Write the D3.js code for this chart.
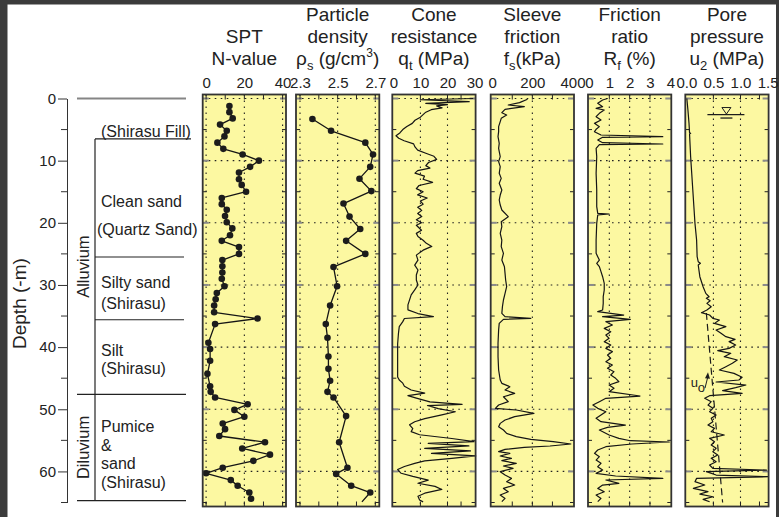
<!DOCTYPE html>
<html>
<head>
<meta charset="utf-8">
<script src="https://cdn.jsdelivr.net/npm/d3@7"></script>
<style>
  body { margin: 0; background: #3b3b3b; }
  svg { display: block; font-family: "Liberation Sans", Arial, sans-serif; }
</style>
</head>
<body>
<svg id="chart" width="779" height="517"></svg>
<script>
// ---- data (depth in m, value) ----
const sptData = [[1.2,12.2],[2.2,12.2],[3.2,13.9],[4.2,7.3],[5.2,10.8],[6.1,9.6],[7.1,5.9],[8.1,9.0],[9.0,19.1],[10.0,27.6],[11.0,23.0],[11.9,17.2],[13.0,17.2],[13.9,18.6],[15.0,20.9],[16.0,8.2],[17.0,8.2],[17.9,10.8],[18.9,9.9],[19.9,10.8],[20.9,13.7],[22.0,12.5],[22.9,8.2],[23.9,17.2],[25.0,17.2],[26.0,8.5],[27.0,8.5],[28.0,8.5],[29.0,8.2],[30.2,9.6],[31.3,5.6],[32.3,5.0],[33.3,4.2],[34.4,4.2],[35.4,26.9],[36.3,4.7],[39.3,1.2],[40.3,2.1],[42.2,2.1],[44.3,0.7],[46.3,2.1],[47.2,2.4],[48.1,4.7],[49.2,21.7],[50.1,14.8],[51.2,20.0],[52.3,8.7],[53.2,9.9],[54.3,6.9],[55.3,30.8],[56.3,18.9],[57.3,33.4],[58.3,24.7],[59.4,8.7],[60.3,0.0],[61.4,12.9],[62.3,16.5],[63.4,22.6],[64.4,23.5]];

const densityData = [[3.3,2.366],[5.2,2.465],[7.1,2.647],[9.0,2.688],[11.0,2.673],[12.9,2.616],[14.9,2.679],[16.9,2.531],[19.0,2.563],[21.0,2.62],[22.9,2.545],[25.0,2.647],[27.1,2.478],[30.2,2.497],[33.3,2.46],[36.3,2.437],[38.5,2.446],[41.5,2.451],[43.5,2.451],[45.4,2.46],[47.2,2.446],[48.1,2.478],[51.1,2.545],[55.3,2.508],[59.4,2.552],[60.4,2.492],[62.3,2.572],[63.4,2.673],[64.9,2.629]];

const coneData = [[0.0,29.5],[0.2,10],[0.5,28],[0.8,12],[1.0,20],[1.2,16],[1.5,18],[1.8,14],[2.2,12],[2.6,11],[3.0,10],[3.5,8],[4.0,7],[4.5,5],[5.0,3.5],[5.5,2.5],[6.0,1],[6.4,2],[6.8,4],[7.3,7.5],[7.8,8],[8.3,9],[8.8,12],[9.3,15],[9.8,16],[10.3,13],[10.8,12],[11.2,13.5],[11.6,9],[12.0,8],[12.5,11.5],[13.0,11],[13.5,14.5],[14.0,9.5],[14.5,8.5],[15.0,11],[15.5,9],[16.0,12.5],[16.5,10],[17.0,11],[17.5,9],[18.0,10.5],[18.5,9],[19.0,10.5],[19.5,8.5],[20.0,10.4],[20.4,8.5],[21.2,10.4],[21.7,8.5],[22.2,9.1],[22.8,11],[23.3,12.2],[23.8,14.2],[24.4,11],[25.2,8.5],[26.0,9.1],[26.8,7.9],[27.6,9.1],[28.4,8.5],[29.2,8.5],[30.0,9.1],[30.8,7.9],[31.6,6.6],[32.4,6],[33.2,5.4],[34.0,5.4],[34.6,9.1],[35.1,14.8],[35.4,4.1],[35.9,3.5],[36.7,2.2],[37.8,1.9],[39.5,1.6],[42.2,1.6],[44.8,1.6],[45.3,2.2],[45.8,3.5],[46.3,4.1],[46.9,6.6],[47.4,11.6],[47.8,5.4],[48.2,8.5],[48.8,13.5],[49.2,25.4],[49.4,12.6],[49.9,16.6],[50.4,22.9],[50.9,17.9],[51.5,11.6],[52.0,7.9],[52.5,6],[53.1,7.2],[53.6,6.6],[54.1,9.7],[54.7,21.6],[55.2,29.8],[55.5,12.9],[55.9,27.9],[56.3,11.6],[56.7,28.5],[57.1,14.1],[57.5,30.4],[57.9,21.6],[58.3,11.6],[58.7,7.9],[59.2,4.1],[59.7,1.6],[60.3,2.9],[60.8,7.2],[61.4,12.9],[61.9,9.1],[62.4,15.4],[62.9,17.9],[63.5,11.6],[64.0,9.1],[64.6,9.7],[64.9,11]];

const sleeveData = [[0.13,176],[0.67,136],[1.05,80],[1.31,160],[1.74,64],[2.28,48],[2.65,72],[3.19,45],[3.73,40],[4.53,32],[5.34,32],[6.14,29],[7.21,35],[8.02,32],[9.36,40],[10.16,32],[10.97,40],[12.04,35],[12.85,45],[13.65,35],[14.72,48],[15.53,40],[16.33,35],[17.14,40],[17.94,48],[19.01,80],[19.82,45],[20.62,48],[21.7,40],[22.77,48],[23.84,45],[24.91,56],[25.99,48],[27.06,61],[28.13,64],[29.2,67],[30.28,72],[31.35,64],[32.42,56],[33.49,51],[34.57,48],[35.1,64],[35.37,192],[35.53,56],[36.18,35],[37.25,32],[39.39,29],[41.54,29],[43.68,32],[45.29,40],[45.83,48],[46.37,88],[46.9,64],[47.44,112],[47.98,56],[48.78,80],[49.32,32],[49.85,16],[50.12,120],[50.66,208],[51.19,112],[51.73,64],[52.27,40],[52.8,32],[53.34,56],[53.88,72],[54.41,120],[54.84,192],[55.22,304],[55.59,392],[55.91,288],[56.13,160],[56.45,64],[56.82,32],[57.09,88],[57.52,40],[57.9,96],[58.27,48],[58.7,120],[59.13,56],[59.51,104],[60.04,40],[60.58,64],[61.12,96],[61.65,72],[62.19,112],[62.73,56],[63.26,80],[63.8,40],[64.34,64],[64.87,48]];

const ratioData = [[0.0,0.91],[0.24,0.67],[0.78,0.43],[1.31,0.67],[1.58,0.35],[1.85,0.75],[2.39,0.51],[2.92,0.35],[3.46,0.59],[4.0,0.27],[4.53,0.51],[4.96,0.35],[5.34,0.27],[5.87,0.59],[6.14,3.63],[6.25,0.67],[6.68,0.43],[7.11,0.67],[7.32,3.63],[7.43,0.51],[8.02,0.35],[9.36,0.38],[12.04,0.35],[14.72,0.38],[17.41,0.38],[18.48,0.43],[18.58,0.99],[18.74,0.43],[20.09,0.38],[22.77,0.35],[24.91,0.35],[25.45,0.43],[25.99,0.51],[26.52,0.38],[27.06,0.51],[27.86,0.59],[28.67,0.67],[29.74,0.75],[30.81,0.75],[31.89,0.7],[32.96,0.7],[34.03,0.67],[34.3,0.43],[34.84,1.71],[35.1,0.67],[35.53,2.03],[35.91,0.83],[36.44,1.15],[36.98,0.75],[37.52,1.07],[38.05,0.83],[38.59,0.99],[39.12,0.75],[39.66,1.07],[40.2,0.83],[40.73,1.15],[41.27,0.91],[41.81,1.07],[42.34,0.83],[42.88,1.15],[43.41,0.91],[43.95,1.23],[44.49,1.07],[45.02,1.31],[45.56,1.47],[46.1,0.99],[46.63,1.23],[47.17,0.99],[47.87,2.51],[48.24,0.83],[48.78,0.51],[49.32,0.19],[49.85,0.43],[50.39,0.83],[50.93,0.59],[51.46,0.35],[52.0,0.59],[52.54,1.79],[52.91,0.91],[53.34,0.51],[54.14,0.99],[54.68,1.47],[55.06,2.03],[55.27,3.95],[55.59,2.11],[56.02,0.83],[56.56,0.43],[57.09,0.27],[57.63,0.51],[58.17,0.35],[58.7,0.59],[59.24,0.43],[59.78,0.67],[60.31,0.35],[60.74,1.31],[61.12,3.63],[61.38,0.83],[61.92,1.47],[62.19,0.67],[62.73,0.43],[63.26,0.75],[63.8,0.35],[64.34,0.59],[64.87,0.43]];

const poreData = [[0.0,0.01],[1.85,0.03],[4.0,0.05],[5.5,0.06],[5.6,0.08],[5.7,0.06],[9.36,0.08],[12.04,0.1],[14.72,0.12],[17.41,0.14],[20.09,0.16],[22.77,0.19],[25.45,0.2],[26.25,0.22],[26.52,0.26],[26.79,0.22],[28.67,0.25],[30.28,0.31],[31.35,0.36],[31.89,0.42],[32.15,0.37],[32.53,0.44],[32.96,0.38],[33.49,0.46],[34.03,0.38],[34.46,0.28],[34.84,0.43],[35.37,0.49],[35.64,0.61],[36.18,0.52],[36.71,0.73],[37.25,0.55],[37.78,0.64],[38.32,0.73],[38.75,0.9],[39.12,0.79],[39.66,0.91],[40.2,0.79],[40.57,0.58],[41.0,0.82],[41.54,0.7],[42.07,0.94],[42.61,0.85],[43.15,0.73],[43.68,0.61],[44.22,0.88],[44.86,1.03],[45.29,0.97],[45.61,0.55],[46.1,1.1],[46.53,0.91],[47.01,0.67],[47.44,1.03],[47.81,0.43],[48.24,0.34],[48.78,0.46],[49.32,0.4],[49.85,0.49],[50.39,0.43],[50.93,0.55],[51.46,0.46],[52.0,0.49],[52.54,0.4],[53.07,0.52],[53.61,0.46],[54.14,0.7],[54.68,0.43],[55.22,0.52],[55.75,0.46],[56.29,0.55],[56.82,0.49],[57.36,0.58],[57.9,0.46],[58.43,0.55],[58.97,0.43],[59.51,0.49],[59.78,1.48],[60.04,0.37],[60.58,0.55],[60.85,1.51],[61.12,0.19],[61.65,0.16],[62.19,0.34],[62.73,0.13],[63.26,0.4],[63.64,0.25],[64.07,0.49],[64.5,0.31],[64.87,0.43]];

// hydrostatic pore pressure u0 (dashed) and water table
const u0Line = [[34.5,0.37],[65,0.67]];
const waterTable = { depth: 2.5, u: 0.74 };

// stratigraphy
const unitBounds = [0, 47.6, 64.7];
const subBounds = [6.5, 25.5, 35.6];
const units = [["Alluvium", 6.5, 47.6], ["Diluvium", 47.6, 64.7]];
const layerText = [["(Shirasu Fill)", 6.2], ["Clean sand", 17.5], ["(Quartz Sand)", 22.0], ["Silty sand", 30.5], ["(Shirasu)", 33.8], ["Silt", 41.4], ["(Shirasu)", 44.35], ["Pumice", 53.66], ["&", 56.64], ["sand", 59.61], ["(Shirasu)", 62.6]];

const depthTicks = [0, 10, 20, 30, 40, 50, 60];
const depthMinor = [5, 15, 25, 35, 45, 55, 65];

// ---- layout ----
const svg = d3.select("#chart");
svg.append("rect").attr("x", 7.5).attr("y", 4.5).attr("width", 768.5).attr("height", 513).attr("fill", "#fff");

const y = d3.scaleLinear().domain([0, 65]).range([98.5, 502.5]);
const frameTop = 94.5, frameBottom = 506.5, frameW = 83.3;

const panels = [
  { left: 202.7, pad: 3.4, domain: [0, 40], labels: [0, 20, 40], fmt: d3.format("d"), grid: [0, 20, 40], edge: [0, 10, 20, 30, 40],
    data: sptData, dots: true, title: ["SPT", "N-value"] },
  { left: 296, pad: 4, domain: [2.3, 2.7], labels: [2.3, 2.5, 2.7], fmt: d3.format(".1f"), grid: [2.3, 2.5, 2.7], edge: [2.3, 2.4, 2.5, 2.6, 2.7],
    data: densityData, dots: true, title: ["Particle", "density", [["ρ"], ["s", "sub"], [" (g/cm"], ["3", "sup"], [")"]]] },
  { left: 392.3, pad: 1, domain: [0, 30], labels: [0, 10, 20, 30], fmt: d3.format("d"), grid: [10, 20], edge: [10, 20, 25],
    data: coneData, title: ["Cone", "resistance", [["q"], ["t", "sub"], [" (MPa)"]]] },
  { left: 490.7, pad: 1.5, domain: [0, 400], labels: [0, 200, 400], fmt: d3.format("d"), grid: [200], edge: [100, 200, 300],
    data: sleeveData, title: ["Sleeve", "friction", [["f"], ["s", "sub"], ["(kPa)"]]] },
  { left: 588, pad: 1, domain: [0, 4], labels: [0, 1, 2, 3, 4], fmt: d3.format("d"), grid: [1, 2, 3], edge: [1, 2, 3],
    data: ratioData, title: ["Friction", "ratio", [["R"], ["f", "sub"], [" (%)"]]] },
  { left: 685.3, pad: 1, domain: [0, 1.5], labels: [0, 0.5, 1.0, 1.5], fmt: d3.format(".1f"), grid: [0.5, 1.0], edge: [0.5, 1.0, 1.35],
    data: poreData, title: ["Pore", "pressure", [["u"], ["2", "sub"], [" (MPa)"]]] }
];

function writeLine(text, parts) {
  if (typeof parts === "string") { text.text(parts); return; }
  let shift = 0;
  parts.forEach(([s, kind]) => {
    const t = text.append("tspan").text(s);
    let target = 0;
    if (kind === "sub") { target = 5; t.attr("font-size", 13); }
    if (kind === "sup") { target = -8; t.attr("font-size", 12); }
    if (target !== shift) t.attr("dy", target - shift);
    shift = target;
  });
}

panels.forEach(p => {
  const x = d3.scaleLinear().domain(p.domain).range([p.left + p.pad, p.left + frameW - p.pad]);
  const cx = p.left + frameW / 2;
  const g = svg.append("g");

  g.append("rect")
    .attr("x", p.left).attr("y", frameTop)
    .attr("width", frameW).attr("height", frameBottom - frameTop)
    .attr("fill", "#fcf8a1");

  // dotted grid
  g.selectAll(".hgrid").data(depthTicks).enter().append("line")
    .attr("x1", p.left).attr("x2", p.left + frameW)
    .attr("y1", d => y(d)).attr("y2", d => y(d))
    .attr("stroke", "#222").attr("stroke-width", 1.1).attr("stroke-dasharray", "1.6,4.4");
  g.selectAll(".vgrid").data(p.grid).enter().append("line")
    .attr("x1", d => x(d)).attr("x2", d => x(d))
    .attr("y1", frameTop).attr("y2", frameBottom)
    .attr("stroke", "#222").attr("stroke-width", 1.1).attr("stroke-dasharray", "1.6,4.4");

  // edge ticks
  depthTicks.concat(depthMinor).forEach(d => {
    const major = d % 10 === 0;
    [[p.left, 1], [p.left + frameW, -1]].forEach(([ex, dir]) => {
      g.append("line")
        .attr("x1", ex).attr("x2", ex + dir * (major ? 6 : 4))
        .attr("y1", y(d)).attr("y2", y(d))
        .attr("stroke", major ? "#8a8a8a" : "#222").attr("stroke-width", major ? 2 : 1);
    });
  });
  p.edge.forEach(v => {
    [[frameTop, 1], [frameBottom, -1]].forEach(([ey, dir]) => {
      g.append("line")
        .attr("x1", x(v)).attr("x2", x(v))
        .attr("y1", ey).attr("y2", ey + dir * 5)
        .attr("stroke", "#222").attr("stroke-width", 1);
    });
  });

  // data trace
  const line = d3.line().x(d => x(d[1])).y(d => y(d[0]));
  g.append("path").datum(p.data)
    .attr("fill", "none").attr("stroke", "#151515")
    .attr("stroke-width", p.dots ? 1.3 : 1.2)
    .attr("stroke-linejoin", "round")
    .attr("d", line);

  if (p.dots) {
    const pts = p.data === densityData ? p.data.slice(0, -1) : p.data;
    g.selectAll(".dot").data(pts).enter().append("circle")
      .attr("cx", d => x(d[1])).attr("cy", d => y(d[0]))
      .attr("r", 3.3).attr("fill", "#1c1c1c");
  }

  if (p.data === poreData) {
    g.append("path").datum(u0Line)
      .attr("fill", "none").attr("stroke", "#1c1c1c").attr("stroke-width", 1.2)
      .attr("stroke-dasharray", "7,4").attr("d", line);
    // u0 label + arrow
    const lx = x(0.08), ly = y(46.4);
    const t = g.append("text").attr("x", lx).attr("y", ly).attr("font-size", 13).attr("fill", "#222");
    writeLine(t, [["u"], ["o", "sub"]]);
    const ax0 = x(0.345), ay0 = y(46.6), ax1 = x(0.4), ay1 = y(44.2);
    g.append("line").attr("x1", ax0).attr("y1", ay0).attr("x2", ax1).attr("y2", ay1 + 3)
      .attr("stroke", "#1c1c1c").attr("stroke-width", 1);
    g.append("path")
      .attr("d", `M${ax1},${ay1 - 1}L${ax1 - 3},${ay1 + 5}L${ax1 + 2},${ay1 + 5.5}Z`)
      .attr("fill", "#1c1c1c");
    // water table symbol
    const wx = x(waterTable.u), wy = y(waterTable.depth);
    g.append("path").attr("d", `M${wx - 4.5},${wy - 6.5}L${wx + 4.5},${wy - 6.5}L${wx},${wy}Z`)
      .attr("fill", "none").attr("stroke", "#1c1c1c").attr("stroke-width", 1);
    g.append("line").attr("x1", wx - 19).attr("x2", wx + 18).attr("y1", wy + 0.5).attr("y2", wy + 0.5)
      .attr("stroke", "#1c1c1c").attr("stroke-width", 1.3);
    g.append("line").attr("x1", wx - 6).attr("x2", wx + 6).attr("y1", wy + 4).attr("y2", wy + 4)
      .attr("stroke", "#1c1c1c").attr("stroke-width", 1.3);
  }

  // frame
  g.append("rect")
    .attr("x", p.left).attr("y", frameTop)
    .attr("width", frameW).attr("height", frameBottom - frameTop)
    .attr("fill", "none").attr("stroke", "#333").attr("stroke-width", 1.8);

  // top tick labels
  const ax = svg.append("g").attr("transform", "translate(0,91)")
    .call(d3.axisTop(x).tickValues(p.labels).tickFormat(p.fmt).tickSize(0).tickPadding(3));
  ax.select(".domain").remove();
  ax.selectAll("text").attr("font-size", 15).attr("fill", "#222").attr("font-family", null);

  // title
  p.title.forEach((ln, i) => {
    const t = svg.append("text")
      .attr("x", cx).attr("y", 64.5 - (p.title.length - 1 - i) * 22)
      .attr("text-anchor", "middle").attr("font-size", 19).attr("fill", "#222");
    writeLine(t, ln);
  });
});

// ---- depth axis ----
const yAxis = svg.append("g").attr("transform", "translate(67,0)")
  .call(d3.axisLeft(y).tickValues(depthTicks).tickFormat(d3.format("d")).tickSize(9).tickSizeOuter(0).tickPadding(2));
yAxis.selectAll("text").attr("font-size", 15).attr("fill", "#222").attr("font-family", null);
yAxis.selectAll("line, path").attr("stroke", "#333");
yAxis.selectAll(".minor").data(depthMinor).enter().append("line")
  .attr("x1", -6).attr("x2", 0).attr("y1", d => y(d)).attr("y2", d => y(d))
  .attr("stroke", "#333");

svg.append("text")
  .attr("transform", `translate(25.5,${(y(25.6) + y(40.4)) / 2}) rotate(-90)`)
  .attr("text-anchor", "middle").attr("font-size", 19).attr("fill", "#222")
  .text("Depth (-m)");

// ---- stratigraphy column ----
unitBounds.forEach((d, i) => {
  svg.append("line").attr("x1", 77).attr("x2", 186).attr("y1", y(d)).attr("y2", y(d))
    .attr("stroke", i === 0 ? "#858585" : "#222").attr("stroke-width", i === 0 ? 2 : 1.2);
});
subBounds.forEach((d, i) => {
  svg.append("line").attr("x1", 95).attr("x2", i === 0 ? 191 : 184).attr("y1", y(d)).attr("y2", y(d))
    .attr("stroke", "#222").attr("stroke-width", 1.2);
});
svg.append("line").attr("x1", 95).attr("x2", 95)
  .attr("y1", y(subBounds[0])).attr("y2", y(unitBounds[2]))
  .attr("stroke", "#222").attr("stroke-width", 1.2);

units.forEach(([name, top, bottom]) => {
  svg.append("text")
    .attr("transform", `translate(89,${y((top + bottom) / 2)}) rotate(-90)`)
    .attr("text-anchor", "middle").attr("font-size", 16.5).attr("fill", "#222")
    .text(name);
});

layerText.forEach(([s, d]) => {
  svg.append("text")
    .attr("x", s === "(Quartz Sand)" ? 97 : 101).attr("y", y(d))
    .attr("font-size", 16).attr("fill", "#222")
    .text(s);
});
</script>
</body>
</html>
